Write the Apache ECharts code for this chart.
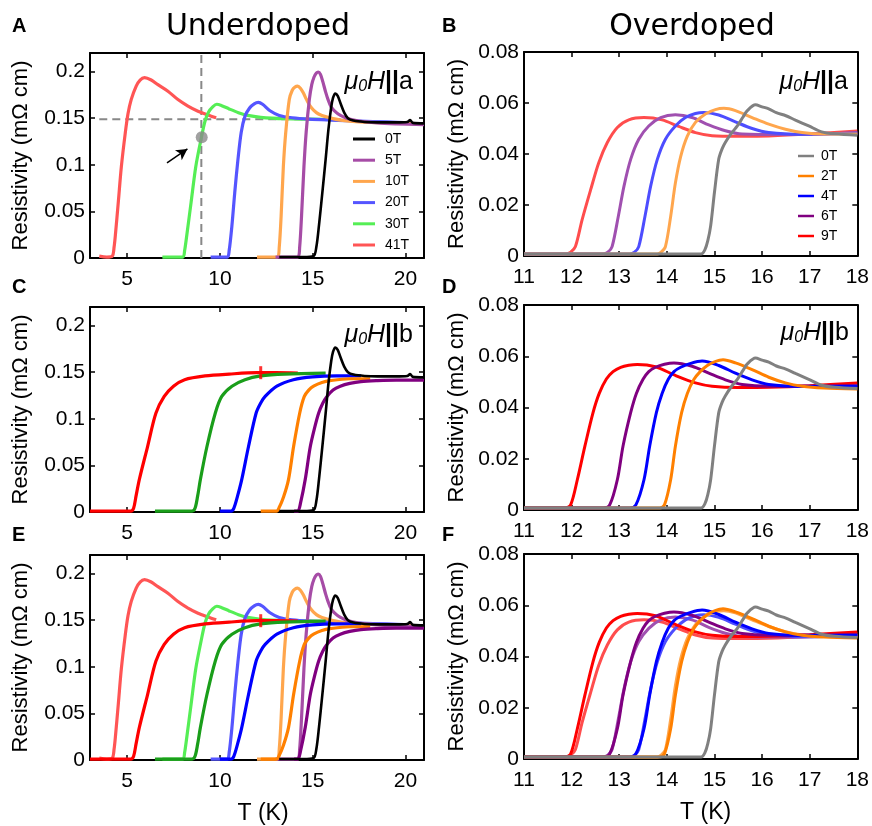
<!DOCTYPE html>
<html><head><meta charset="utf-8">
<script src="https://cdn.jsdelivr.net/npm/echarts@6/dist/echarts.min.js"></script>
<style>html,body{margin:0;padding:0;background:#fff}#c{width:872px;height:826px}</style>
</head><body><div id="c"></div><script>
// ---------- Underdoped (T in K, resistivity in mOhm cm) ----------
const UD_0T = [[13.2,0.001],[14.5,0.001],[15.05,0.002],[15.2,0.012],[15.34,0.035],[15.52,0.07],[15.7,0.106],[15.85,0.138],[16.0,0.162],[16.1,0.172],[16.22,0.1766],[16.35,0.174],[16.5,0.166],[16.7,0.156],[16.9,0.150],[17.2,0.1475],[17.8,0.146],[18.5,0.1455],[19.5,0.1455],[20.1,0.146],[20.25,0.148],[20.4,0.145],[21,0.1445]];
// H || a
const UD_Ha_5T  = [[13.0,0.001],[14.2,0.001],[14.3,0.012],[14.4,0.045],[14.53,0.098],[14.65,0.135],[14.82,0.17],[14.95,0.186],[15.07,0.194],[15.2,0.1985],[15.3,0.1996],[15.42,0.197],[15.55,0.189],[15.7,0.178],[15.83,0.17],[16.0,0.162],[16.28,0.156],[16.5,0.153],[16.82,0.150],[17.5,0.147],[18.5,0.145],[19.5,0.144],[21,0.143]];
const UD_Ha_10T = [[12.0,0.001],[13.1,0.001],[13.2,0.012],[13.3,0.045],[13.42,0.098],[13.55,0.135],[13.74,0.17],[13.9,0.18],[14.05,0.1835],[14.19,0.1845],[14.35,0.182],[14.5,0.177],[14.67,0.17],[14.9,0.162],[15.2,0.156],[15.5,0.153],[15.83,0.151],[16.5,0.148],[17.5,0.146],[19,0.145],[21,0.144]];
const UD_Ha_20T = [[9.5,0.001],[10.4,0.001],[10.5,0.008],[10.65,0.035],[10.8,0.07],[10.97,0.105],[11.15,0.135],[11.35,0.152],[11.6,0.161],[11.85,0.1655],[12.07,0.167],[12.3,0.165],[12.7,0.158],[13.2,0.153],[13.9,0.1505],[14.8,0.149],[16,0.148],[17.5,0.147],[19,0.146],[20.3,0.145]];
const UD_Ha_30T = [[6.9,0.001],[8.0,0.001],[8.1,0.008],[8.22,0.025],[8.45,0.06],[8.7,0.098],[9.0,0.129],[9.2,0.147],[9.4,0.157],[9.6,0.162],[9.83,0.165],[10.1,0.1635],[10.5,0.16],[11.0,0.156],[11.5,0.153],[12.2,0.151],[13.5,0.1495],[15,0.149],[16.3,0.1485]];
const UD_Ha_41T = [[3.5,0.002],[3.9,0.001],[4.2,0.002],[4.3,0.012],[4.37,0.025],[4.53,0.061],[4.69,0.098],[4.9,0.134],[5.05,0.155],[5.22,0.17],[5.49,0.1845],[5.7,0.191],[5.94,0.1935],[6.3,0.191],[6.66,0.186],[7.2,0.179],[7.74,0.17],[8.28,0.163],[8.82,0.1575],[9.36,0.1535],[9.8,0.1505]];
// H || b
const UD_Hb_5T  = [[14.0,0.001],[14.2,0.001],[14.35,0.01],[14.6,0.035],[14.87,0.07],[15.1,0.09],[15.32,0.106],[15.55,0.117],[15.77,0.124],[16.1,0.131],[16.49,0.135],[17.0,0.138],[17.6,0.14],[18.5,0.141],[19.5,0.1415],[21,0.1415]];
const UD_Hb_10T = [[12.2,0.001],[13.05,0.001],[13.2,0.005],[13.43,0.016],[13.7,0.035],[13.97,0.07],[14.3,0.106],[14.55,0.124],[14.8,0.131],[15.05,0.135],[15.5,0.139],[15.95,0.141],[17,0.143],[18.1,0.143]];
const UD_Hb_20T = [[10.0,0.001],[10.6,0.001],[10.75,0.004],[10.95,0.017],[11.18,0.035],[11.54,0.07],[11.95,0.106],[12.2,0.117],[12.44,0.124],[13.07,0.135],[13.96,0.142],[15,0.145],[16.3,0.146],[17.6,0.146]];
const UD_Hb_30T = [[6.5,0.001],[8.5,0.001],[8.66,0.004],[8.8,0.017],[8.95,0.035],[9.3,0.07],[9.75,0.106],[10.1,0.124],[10.65,0.135],[11.35,0.142],[12.2,0.146],[13.5,0.148],[15.7,0.149]];
const UD_Hb_41T = [[3.0,0.001],[5.2,0.001],[5.35,0.004],[5.48,0.017],[5.66,0.035],[6.1,0.07],[6.55,0.106],[7.0,0.124],[7.5,0.135],[8.1,0.142],[9.2,0.146],[10.5,0.148],[12,0.1495],[13,0.1495],[14.2,0.149]];
// ---------- Overdoped ----------
const OD_0T = [[11,0.0008],[14.72,0.0008],[14.8,0.0025],[14.86,0.006],[14.92,0.0118],[15.0,0.025],[15.09,0.038],[15.16,0.042],[15.23,0.0446],[15.35,0.048],[15.48,0.051],[15.6,0.0545],[15.69,0.057],[15.86,0.0593],[16.0,0.0585],[16.14,0.0577],[16.3,0.0562],[16.5,0.055],[16.7,0.0533],[16.98,0.051],[17.25,0.0487],[17.53,0.0479],[18,0.0474]];
const OD_Ha_2T = [[11,0.0008],[13.8,0.0008],[13.88,0.0015],[13.97,0.0037],[14.08,0.0155],[14.18,0.0287],[14.29,0.039],[14.43,0.047],[14.6,0.0524],[14.81,0.0557],[15.02,0.0574],[15.2,0.0579],[15.44,0.057],[15.79,0.0543],[16.14,0.0517],[16.49,0.0497],[16.84,0.0484],[17.3,0.0478],[18,0.0478]];
const OD_Ha_4T = [[11,0.0008],[13.22,0.0008],[13.32,0.0015],[13.41,0.0037],[13.54,0.0155],[13.66,0.0274],[13.8,0.0379],[13.97,0.0458],[14.18,0.051],[14.39,0.0543],[14.6,0.0559],[14.78,0.0563],[15.09,0.0553],[15.44,0.0526],[15.79,0.05],[16.14,0.0484],[16.84,0.0477],[18,0.0482]];
const OD_Ha_6T = [[11,0.0008],[12.66,0.0008],[12.76,0.0015],[12.85,0.0037],[12.98,0.0155],[13.1,0.0274],[13.24,0.0379],[13.41,0.0458],[13.62,0.051],[13.87,0.0543],[14.18,0.0554],[14.53,0.0543],[14.88,0.0514],[15.23,0.0491],[15.58,0.0478],[16.5,0.0476],[18,0.0482]];
const OD_Ha_9T = [[11,0.0008],[11.88,0.0008],[11.98,0.0015],[12.08,0.0037],[12.22,0.0142],[12.4,0.026],[12.57,0.0366],[12.75,0.0445],[12.96,0.0504],[13.2,0.0534],[13.52,0.0543],[13.9,0.0534],[14.25,0.0508],[14.6,0.0484],[14.95,0.0472],[15.5,0.047],[16.14,0.0471],[17,0.0478],[18,0.049]];
const OD_Hb_2T = [[11,0.0008],[13.85,0.0008],[13.95,0.002],[14.08,0.0118],[14.18,0.025],[14.31,0.038],[14.43,0.0455],[14.57,0.051],[14.7,0.054],[14.85,0.0564],[15.0,0.0578],[15.18,0.0586],[15.44,0.0574],[15.79,0.0548],[16.14,0.0518],[16.49,0.0496],[16.84,0.0483],[17.3,0.0476],[18,0.0472]];
const OD_Hb_4T = [[11,0.0008],[13.22,0.0008],[13.35,0.002],[13.52,0.0118],[13.64,0.025],[13.78,0.038],[13.9,0.0455],[14.03,0.051],[14.15,0.054],[14.29,0.0557],[14.5,0.0572],[14.74,0.0581],[15.09,0.0564],[15.44,0.0534],[15.79,0.0508],[16.14,0.049],[16.8,0.0482],[18,0.0483]];
const OD_Hb_6T = [[11,0.0008],[12.66,0.0008],[12.8,0.002],[12.96,0.0118],[13.08,0.025],[13.24,0.038],[13.36,0.0455],[13.5,0.051],[13.62,0.054],[13.76,0.0557],[13.95,0.0569],[14.15,0.0574],[14.53,0.0561],[14.88,0.0534],[15.23,0.0508],[15.58,0.049],[16.14,0.0483],[18,0.0485]];
const OD_Hb_9T = [[11,0.0008],[11.86,0.0008],[11.98,0.002],[12.12,0.0118],[12.28,0.025],[12.45,0.038],[12.58,0.0455],[12.73,0.0511],[12.87,0.054],[13.03,0.0557],[13.2,0.0565],[13.38,0.0568],[13.76,0.0559],[14.18,0.0525],[14.6,0.0496],[14.95,0.0483],[15.5,0.0478],[16.14,0.0479],[17,0.0485],[18,0.0496]];
// ---------- annotations (data coordinates) ----------
const GUIDE_V = [[9,0],[9,0.22]];
const GUIDE_H = [[3.5,0.149],[16.5,0.149]];
const GUIDE_DOT = [[9.02,0.1295]];
const ARROW = [[7.15,0.102],[8.25,0.117]];
const CROSS = [[12.2,0.1495]];
// ---------- axis ticks ----------
const UD_X_TICKS = [5,10,15,20];
const UD_Y_TICKS = [0,0.05,0.1,0.15,0.2];
const OD_X_TICKS = [11,12,13,14,15,16,17,18];
const OD_Y_TICKS = [0,0.02,0.04,0.06,0.08];
const UD_FIELDS = ['0T','5T','10T','20T','30T','41T'];
const OD_FIELDS = ['0T','2T','4T','6T','9T'];

const FONT = 'Liberation Sans';
const grids = [
  {left:90, top:53, width:334, height:205},
  {left:524, top:52, width:334, height:204},
  {left:90, top:307, width:334, height:205},
  {left:524, top:305, width:334, height:205},
  {left:90, top:555, width:334, height:205},
  {left:524, top:554, width:334, height:205}
];
const xAxis = [], yAxis = [];
grids.forEach((g, gi) => {
  const ud = gi % 2 === 0;
  const xt = ud ? UD_X_TICKS : OD_X_TICKS;
  const yt = ud ? UD_Y_TICKS : OD_Y_TICKS;
  const xr = ud ? [3,21] : [11,18];
  const yr = ud ? [0,0.22] : [0,0.08];
  const line = {show:true, onZero:false, lineStyle:{color:'#000', width:2}};
  const tick = (vals) => ({show:true, inside:true, length:5, customValues:vals, lineStyle:{color:'#000', width:1.5}});
  const lbl = {show:true, margin:11, color:'#000', fontSize:21, fontFamily:FONT};
  const bottomX = {type:'value', gridIndex:gi, position:'bottom', min:xr[0], max:xr[1], axisLine:line, axisTick:tick(xt),
    axisLabel:Object.assign({customValues:xt}, lbl), splitLine:{show:false}};
  if (gi >= 4) {
    Object.assign(bottomX, {name:'T (K)', nameLocation:'middle', nameGap:42,
      nameTextStyle:{fontSize:23, fontFamily:FONT, color:'#000', padding:[0,0,0,ud?12:30]}});
  }
  xAxis.push(bottomX);
  xAxis.push({type:'value', gridIndex:gi, position:'top', min:xr[0], max:xr[1], axisLine:line, axisTick:tick(xt),
    axisLabel:{show:false}, splitLine:{show:false}});
  yAxis.push({type:'value', gridIndex:gi, position:'left', min:yr[0], max:yr[1], axisLine:line, axisTick:tick(yt),
    axisLabel:Object.assign({customValues:yt}, lbl, {margin:5}), splitLine:{show:false},
    name:'Resistivity (mΩ cm)', nameLocation:'middle', nameGap:ud?58:56,
    nameTextStyle:{fontSize:22, fontFamily:FONT, color:'#000'}});
  yAxis.push({type:'value', gridIndex:gi, position:'right', min:yr[0], max:yr[1], axisLine:line, axisTick:tick(yt),
    axisLabel:{show:false}, splitLine:{show:false}});
});

function curve(name, data, color, gi, width, z) {
  return {type:'line', name, data, xAxisIndex:2*gi, yAxisIndex:2*gi, showSymbol:false, symbol:'none',
    smooth:0.3, clip:true, silent:true, z:z||2,
    lineStyle:{color, width:width||3}, itemStyle:{color}, emphasis:{disabled:true}};
}
const C_UD_A = {'0T':'#000000','5T':'#a64ca6','10T':'#ffa64d','20T':'#5555ff','30T':'#55ee55','41T':'#ff5555'};
const C_UD_B = {'0T':'#000000','5T':'#800080','10T':'#ff8000','20T':'#0000ff','30T':'#1a9e1a','41T':'#ff0000'};
const C_OD_A = {'0T':'#808080','2T':'#ffa64d','4T':'#4d4dff','6T':'#a050b0','9T':'#ff4d4d'};
const C_OD_B = {'0T':'#808080','2T':'#ff8000','4T':'#0000ff','6T':'#800080','9T':'#ff0000'};
const UD_A = {'5T':UD_Ha_5T,'10T':UD_Ha_10T,'20T':UD_Ha_20T,'30T':UD_Ha_30T,'41T':UD_Ha_41T};
const UD_B = {'5T':UD_Hb_5T,'10T':UD_Hb_10T,'20T':UD_Hb_20T,'30T':UD_Hb_30T,'41T':UD_Hb_41T};
const OD_A = {'2T':OD_Ha_2T,'4T':OD_Ha_4T,'6T':OD_Ha_6T,'9T':OD_Ha_9T};
const OD_B = {'2T':OD_Hb_2T,'4T':OD_Hb_4T,'6T':OD_Hb_6T,'9T':OD_Hb_9T};
const udOrder = ['41T','30T','20T','10T','5T'];
const odOrder = ['9T','6T','4T','2T'];
const dash = {color:'#888888', width:2, type:[8,5]};

const series = [];
// Panel A
series.push({type:'line', data:GUIDE_V, xAxisIndex:0, yAxisIndex:0, showSymbol:false, symbol:'none', lineStyle:dash, silent:true, z:1});
series.push({type:'line', data:GUIDE_H, xAxisIndex:0, yAxisIndex:0, showSymbol:false, symbol:'none', lineStyle:dash, silent:true, z:1});
udOrder.forEach(f => series.push(curve('A '+f, UD_A[f], C_UD_A[f], 0, 3.2)));
series.push(curve('A 0T', UD_0T, C_UD_A['0T'], 0, 2.6));
series.push({type:'scatter', data:GUIDE_DOT, xAxisIndex:0, yAxisIndex:0, symbolSize:12, itemStyle:{color:'#8a8a8a'}, silent:true, z:5,
  markLine:{silent:true, animation:false, label:{show:false}, symbol:['none','arrow'], symbolSize:[9,11],
    lineStyle:{color:'#000', width:1.5, type:'solid'},
    data:[[{coord:ARROW[0]},{coord:ARROW[1]}]]}});
// Panel B
odOrder.forEach(f => series.push(curve('B '+f, OD_A[f], C_OD_A[f], 1, 3)));
series.push(curve('B 0T', OD_0T, C_OD_A['0T'], 1, 3));
// Panel C
udOrder.forEach(f => series.push(curve('C '+f, UD_B[f], C_UD_B[f], 2, 3.2)));
series.push(curve('C 0T', UD_0T, C_UD_B['0T'], 2, 2.6));
series.push({type:'scatter', data:CROSS, xAxisIndex:4, yAxisIndex:4, symbol:'rect', symbolSize:[3,13], itemStyle:{color:'#ff0000'}, silent:true, z:4});
// Panel D
odOrder.forEach(f => series.push(curve('D '+f, OD_B[f], C_OD_B[f], 3, 3)));
series.push(curve('D 0T', OD_0T, C_OD_B['0T'], 3, 3));
// Panel E
udOrder.forEach(f => series.push(curve('E a '+f, UD_A[f], C_UD_A[f], 4, 3.2)));
udOrder.forEach(f => series.push(curve('E b '+f, UD_B[f], C_UD_B[f], 4, 3.2)));
series.push(curve('E 0T', UD_0T, '#000000', 4, 2.6));
series.push({type:'scatter', data:CROSS, xAxisIndex:8, yAxisIndex:8, symbol:'rect', symbolSize:[3,13], itemStyle:{color:'#ff0000'}, silent:true, z:4});
// Panel F
odOrder.forEach(f => series.push(curve('F a '+f, OD_A[f], C_OD_A[f], 5, 3)));
odOrder.forEach(f => series.push(curve('F b '+f, OD_B[f], C_OD_B[f], 5, 3)));
series.push(curve('F 0T', OD_0T, '#808080', 5, 3));

const legendText = {fontSize:14, fontFamily:FONT, color:'#000'};
const legend = [
  {left:348, top:127, orient:'vertical', icon:'rect', itemWidth:22, itemHeight:3, itemGap:7.2, selectedMode:false,
   textStyle:Object.assign({padding:[0,0,0,5]}, legendText), formatter:n => n.split(' ')[1],
   data:UD_FIELDS.map(f => ({name:'A '+f}))},
  {left:793, top:144, orient:'vertical', icon:'rect', itemWidth:16, itemHeight:2.5, itemGap:6, selectedMode:false,
   textStyle:Object.assign({padding:[0,0,0,2]}, legendText), formatter:n => n.split(' ')[1],
   data:OD_FIELDS.map(f => ({name:'B '+f, itemStyle:{color:C_OD_B[f]}}))}
];

function fieldLabel(x, y, dir) {
  return {type:'text', x, y, silent:true, style:{
    text:'{i|μ}{s|0}{i|H}{b|||}{n|'+dir+'}', align:'right', verticalAlign:'middle',
    rich:{
      i:{fontStyle:'italic', fontSize:25, fontFamily:FONT, fill:'#000'},
      s:{fontStyle:'italic', fontSize:16, fontFamily:FONT, fill:'#000', verticalAlign:'bottom', lineHeight:24},
      b:{fontSize:25, fontWeight:'bold', fontFamily:FONT, fill:'#000'},
      n:{fontSize:25, fontFamily:FONT, fill:'#000'}
    }}};
}
function letter(t, x, y) {
  return {type:'text', x, y, silent:true, style:{text:t, fontSize:20, fontWeight:'bold', fontFamily:FONT, fill:'#000', align:'left', verticalAlign:'top'}};
}
const graphic = [
  {type:'text', x:258, y:27, silent:true, style:{text:'Underdoped', fontSize:30, fontFamily:'DejaVu Sans', fill:'#000', align:'center', verticalAlign:'middle'}},
  {type:'text', x:692, y:27, silent:true, style:{text:'Overdoped', fontSize:30, fontFamily:'DejaVu Sans', fill:'#000', align:'center', verticalAlign:'middle'}},
  letter('A', 12, 16), letter('B', 442, 16), letter('C', 12, 277), letter('D', 442, 277), letter('E', 12, 525), letter('F', 442, 525),
  fieldLabel(413, 82, 'a'), fieldLabel(848, 82, 'a'), fieldLabel(413, 335, 'b'), fieldLabel(849, 333, 'b')
];

const chart = echarts.init(document.getElementById('c'), null, {renderer:'canvas'});
chart.setOption({animation:false, backgroundColor:'#fff', grid:grids, xAxis, yAxis, series, legend, graphic});
</script></body></html>
